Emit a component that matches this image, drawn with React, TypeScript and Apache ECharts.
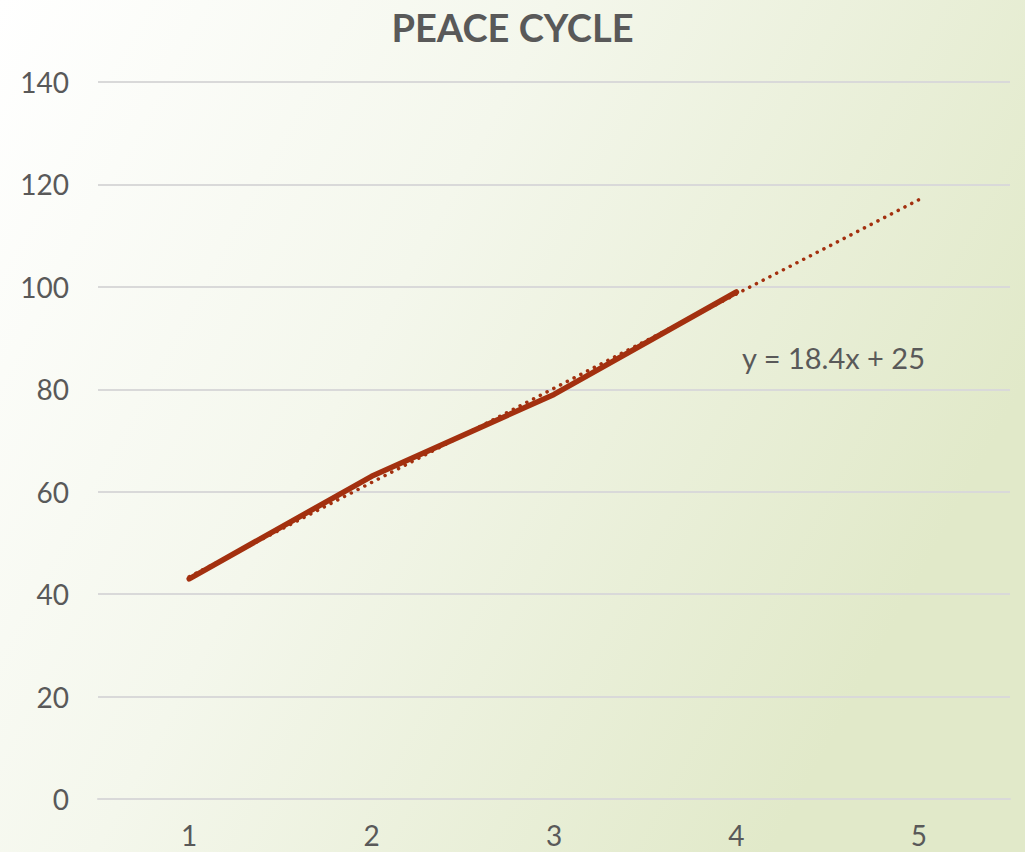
import React, { useEffect, useRef } from "react";
import * as echarts from "echarts";

const categories = ["1", "2", "3", "4", "5"];
const peaceValues = [43, 63, 79, 99, null];
const trendValues = [43.4, 61.8, 80.2, 98.6, 117];
const yTicks = { min: 0, max: 140, interval: 20 };
const titleText = "PEACE CYCLE";
const equationText = "y = 18.4x + 25";

const FONT = "Lato, 'Open Sans', sans-serif";
const LINE_COLOR = "#A3300F";

export default function App() {
  const ref = useRef<HTMLDivElement>(null);
  useEffect(() => {
    if (!ref.current) return;
    const chart = echarts.init(ref.current, null, { renderer: "svg" });
    chart.setOption({
      animation: false,
      backgroundColor: {
        type: "linear",
        x: 0,
        y: 0,
        x2: 1,
        y2: 0.45,
        colorStops: [
          { offset: 0, color: "#ffffff" },
          { offset: 0.45, color: "#f4f7ec" },
          { offset: 1, color: "#e1e9c9" },
        ],
      },
      title: {
        text: titleText,
        left: "center",
        top: 3,
        textStyle: {
          fontFamily: FONT,
          fontWeight: "bold",
          fontSize: 38,
          color: "#595959",
        },
      },
      grid: { left: 98, right: 15, top: 82, bottom: 53, containLabel: false },
      xAxis: {
        type: "category",
        data: categories,
        boundaryGap: true,
        axisLine: { show: true, lineStyle: { color: "#d9d9d9", width: 2 } },
        axisTick: { show: false },
        axisLabel: {
          fontFamily: FONT,
          fontSize: 28,
          color: "#595959",
          margin: 22,
        },
      },
      yAxis: {
        type: "value",
        min: yTicks.min,
        max: yTicks.max,
        interval: yTicks.interval,
        axisLine: { show: false },
        axisTick: { show: false },
        splitLine: { lineStyle: { color: "#d9d9d9", width: 2 } },
        axisLabel: {
          fontFamily: FONT,
          fontSize: 28,
          color: "#595959",
          margin: 29,
        },
      },
      series: [
        {
          name: "Trend",
          type: "line",
          data: trendValues,
          showSymbol: false,
          symbol: "none",
          z: 3,
          lineStyle: {
            color: LINE_COLOR,
            width: 3.5,
            type: [0.1, 7.5],
            cap: "round",
          },
        },
        {
          name: "Peace",
          type: "line",
          data: peaceValues,
          showSymbol: false,
          symbol: "none",
          z: 4,
          lineStyle: {
            color: LINE_COLOR,
            width: 5.5,
            cap: "round",
            join: "round",
          },
        },
      ],
      graphic: [
        {
          type: "text",
          left: 742,
          top: 343,
          style: {
            text: equationText,
            fontFamily: FONT,
            fontSize: 29,
            fill: "#595959",
          },
        },
      ],
    });
    return () => chart.dispose();
  }, []);
  return (
    <div
      ref={ref}
      style={{ position: "fixed", left: 0, top: 0, width: 1025, height: 852 }}
    />
  );
}
